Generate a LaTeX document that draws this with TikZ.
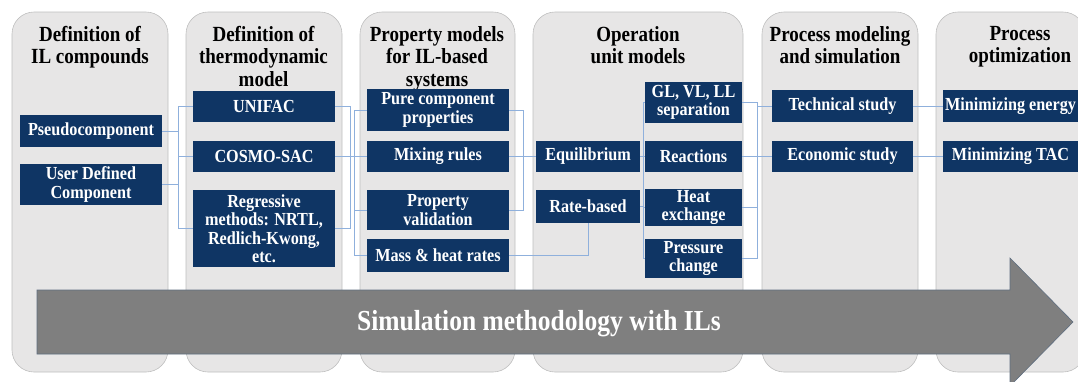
\documentclass[tikz,border=0pt]{standalone}
\usepackage{fontspec}
\setmainfont{Liberation Serif}[FakeStretch=0.88]
\definecolor{navy}{HTML}{0F3564}
\definecolor{stagefill}{HTML}{E7E6E6}
\definecolor{stageline}{HTML}{BFBFBF}
\definecolor{linkblue}{HTML}{8FB0DC}
\definecolor{arrowgray}{HTML}{7F7F7F}
\definecolor{arrowline}{HTML}{5F6E80}

\begin{document}
\begin{tikzpicture}[x=1pt,y=-1pt,
    stage/.style={fill=stagefill,draw=stageline,line width=0.6pt,rounded corners=22pt},
    stagetitle/.style={anchor=north,align=center,inner sep=0pt,font=\bfseries\fontsize{21.6}{22.5}\selectfont},
    ilbox/.style={fill=navy,text=white,align=center,inner sep=0pt,minimum width=142pt,minimum height=32pt,font=\bfseries\fontsize{18.4}{18.5}\selectfont},
    link/.style={draw=linkblue,line width=0.8pt}]
    \useasboundingbox (0,0) rectangle (1078,381);
    \clip (0,0) rectangle (1078,381);

    % Stage columns
    \foreach \l/\r in {12/168,186/342,360/515,533/743,762/918,936/1085} {
        \draw[stage] (\l,12) rectangle (\r,372);
    }

    % Column titles
    \node[stagetitle] (ttlIL) at (90,26) {Definition of\\IL compounds};
    \node[stagetitle] (ttlThermo) at (263.5,26) {Definition of\\thermodynamic\\model};
    \node[stagetitle] (ttlProp) at (437,26) {Property models\\for IL-based\\systems};
    \node[stagetitle] (ttlUnit) at (638,26) {Operation\\unit models};
    \node[stagetitle] (ttlProcess) at (840,26) {Process modeling\\and simulation};
    \node[stagetitle] (ttlOpt) at (1020,26) {Process\\optimization};

    % IL compounds
    \node[ilbox] (pseudo) at (91,131) {Pseudocomponent};
    \node[ilbox,minimum height=41pt] (userdef) at (91,184.5) {User Defined\\Component};

    % Thermodynamic model
    \node[ilbox,minimum height=31pt] (unifac) at (264,106.5) {UNIFAC};
    \node[ilbox,minimum height=31pt] (cosmo) at (264,156.5) {COSMO-SAC};
    \node[ilbox,minimum height=77pt] (regress) at (264,228.5) {Regressive\\methods: NRTL,\\Redlich-Kwong,\\etc.};

    % Property models
    \node[ilbox,minimum height=42pt] (pure) at (438,110) {Pure component\\properties};
    \node[ilbox,minimum height=31pt] (mixing) at (438,156.5) {Mixing rules};
    \node[ilbox,minimum height=40pt] (propval) at (438,210) {Property\\validation};
    \node[ilbox,minimum height=33pt] (massheat) at (438,255.5) {Mass \& heat rates};

    % Operation units
    \node[ilbox,minimum width=104pt,minimum height=31pt] (equil) at (588,156.5) {Equilibrium};
    \node[ilbox,minimum width=104pt,minimum height=33pt] (ratebased) at (588,206.5) {Rate-based};
    \node[ilbox,minimum width=97pt,minimum height=41pt] (glvl) at (693.5,102.5) {GL, VL, LL\\separation};
    \node[ilbox,minimum width=97pt,minimum height=31pt] (reactions) at (693.5,156.5) {Reactions};
    \node[ilbox,minimum width=97pt,minimum height=37pt] (heatex) at (693.5,207.5) {Heat\\exchange};
    \node[ilbox,minimum width=97pt,minimum height=39pt] (pressure) at (693.5,258.5) {Pressure\\change};

    % Process modeling
    \node[ilbox,minimum width=141pt] (technical) at (842.5,106) {Technical study};
    \node[ilbox,minimum width=141pt,minimum height=31pt] (economic) at (842.5,156.5) {Economic study};

    % Optimization
    \node[ilbox,minimum width=135pt] (minenergy) at (1010.5,106) {Minimizing energy};
    \node[ilbox,minimum width=135pt,minimum height=31pt] (mintac) at (1010.5,156.5) {Minimizing TAC};

    % Bus lines
    \coordinate (busA) at (178,0);
    \coordinate (busB) at (350,0);
    \coordinate (busC) at (354,0);
    \coordinate (busD) at (523,0);
    \coordinate (busE) at (643,0);
    \coordinate (busF) at (757,0);

    \draw[link] (unifac.west) -- (unifac -| busA) -- (regress -| busA) -- (regress.west);
    \draw[link] (pseudo.east) -- (pseudo -| busA);
    \draw[link] (userdef.east) -- (userdef -| busA);
    \draw[link] (cosmo.west) -- (cosmo -| busA);

    \draw[link] (unifac.east) -- (unifac -| busB) -- (regress -| busB) -- (regress.east);
    \draw[link] (cosmo.east) -- (mixing.west);
    \draw[link] (pure.west) -- (pure -| busC) -- (massheat -| busC) -- (massheat.west);
    \draw[link] (propval.west) -- (propval -| busC);

    \draw[link] (pure.east) -- (pure -| busD) -- (propval -| busD) -- (propval.east);
    \draw[link] (mixing.east) -- (equil.west);
    \draw[link] (massheat.east) -| (ratebased.south);

    \draw[link] (glvl.west) -- (glvl -| busE) -- (pressure -| busE) -- (pressure.west);
    \draw[link] (equil.east) -- (reactions.west);
    \draw[link] (ratebased.east) -- (ratebased -| busE);
    \draw[link] (heatex.west) -- (heatex -| busE);

    \draw[link] (glvl.east) -- (glvl -| busF) -- (pressure -| busF) -- (pressure.east);
    \draw[link] (reactions.east) -- (economic.west);
    \draw[link] (heatex.east) -- (heatex -| busF);
    \draw[link] (technical.west) -- (technical -| busF);

    \draw[link] (technical.east) -- (minenergy.west);
    \draw[link] (economic.east) -- (mintac.west);

    % Big arrow
    \draw[fill=arrowgray,draw=arrowline,line width=0.6pt] (37,290) -- (1010,290) -- (1010,258)
        -- (1073,322) -- (1010,386) -- (1010,354) -- (37,354) -- cycle;
    \node[text=white,font=\bfseries\fontsize{29}{32}\selectfont] (simtext) at (539,324) {Simulation methodology with ILs};
\end{tikzpicture}
\end{document}
